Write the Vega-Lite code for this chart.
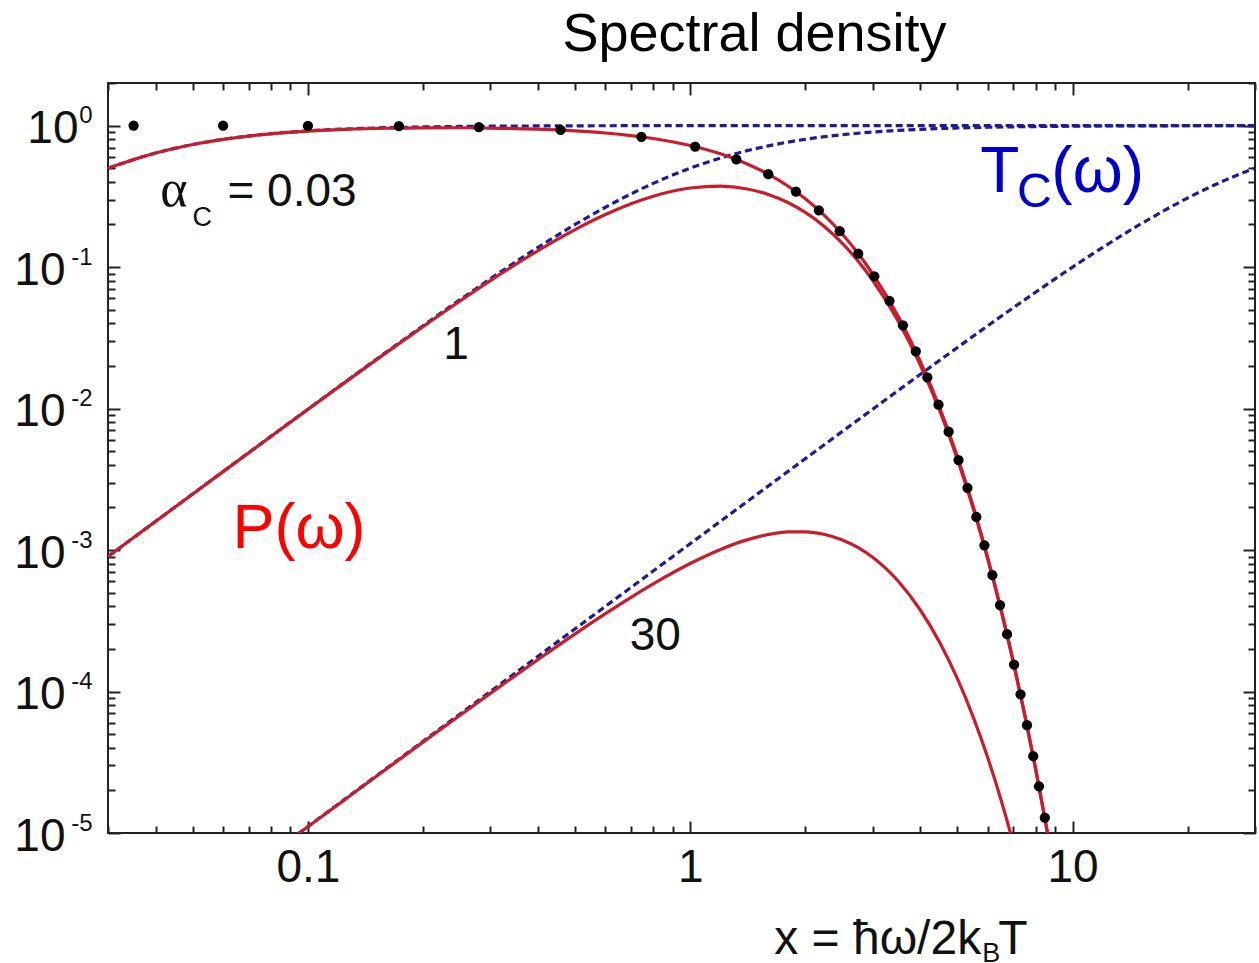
{
  "$schema": "https://vega.github.io/schema/vega-lite/v6.json",
  "width": 1147,
  "height": 750,
  "autosize": {"type": "none"},
  "padding": {"left": 108, "top": 83, "right": 4, "bottom": 130},
  "background": "white",
  "config": {"view": {"stroke": "#222222", "strokeWidth": 2}, "font": "Liberation Sans"},
  "title": {"text": "Spectral density", "fontSize": 54, "font": "Liberation Sans", "fontWeight": "normal", "color": "#000000", "anchor": "middle", "dx": 73, "offset": 20},
  "datasets": {
    "T": [
      {"a": "0.03", "x": 0.03, "v": 0.5}, {"a": "0.03", "x": 0.04, "v": 0.64}, {"a": "0.03", "x": 0.05, "v": 0.7353}, {"a": "0.03", "x": 0.06, "v": 0.8}, {"a": "0.03", "x": 0.08, "v": 0.8767}, {"a": "0.03", "x": 0.1, "v": 0.9174}, {"a": "0.03", "x": 0.125, "v": 0.9455}, {"a": "0.03", "x": 0.16, "v": 0.966}, {"a": "0.03", "x": 0.2, "v": 0.978}, {"a": "0.03", "x": 0.25, "v": 0.9858}, {"a": "0.03", "x": 0.3, "v": 0.9901}, {"a": "0.03", "x": 0.4, "v": 0.9944}, {"a": "0.03", "x": 0.5, "v": 0.9964}, {"a": "0.03", "x": 0.6, "v": 0.9975}, {"a": "0.03", "x": 0.8, "v": 0.9986}, {"a": "0.03", "x": 1, "v": 0.9991}, {"a": "0.03", "x": 1.5, "v": 0.9996}, {"a": "0.03", "x": 2, "v": 0.9998}, {"a": "0.03", "x": 3, "v": 0.9999}, {"a": "0.03", "x": 5, "v": 1}, {"a": "0.03", "x": 10, "v": 1}, {"a": "0.03", "x": 30, "v": 1},
      {"a": "1", "x": 0.03, "v": 0.0008992}, {"a": "1", "x": 0.04, "v": 0.0015974}, {"a": "1", "x": 0.05, "v": 0.0024938}, {"a": "1", "x": 0.06, "v": 0.0035871}, {"a": "1", "x": 0.08, "v": 0.0063593}, {"a": "1", "x": 0.1, "v": 0.009901}, {"a": "1", "x": 0.125, "v": 0.015385}, {"a": "1", "x": 0.16, "v": 0.024961}, {"a": "1", "x": 0.2, "v": 0.038462}, {"a": "1", "x": 0.25, "v": 0.058824}, {"a": "1", "x": 0.3, "v": 0.082569}, {"a": "1", "x": 0.4, "v": 0.137931}, {"a": "1", "x": 0.5, "v": 0.2}, {"a": "1", "x": 0.6, "v": 0.264706}, {"a": "1", "x": 0.7, "v": 0.328859}, {"a": "1", "x": 0.8, "v": 0.390244}, {"a": "1", "x": 1, "v": 0.5}, {"a": "1", "x": 1.2, "v": 0.590164}, {"a": "1", "x": 1.4, "v": 0.662162}, {"a": "1", "x": 1.6, "v": 0.719101}, {"a": "1", "x": 1.8, "v": 0.764151}, {"a": "1", "x": 2, "v": 0.8}, {"a": "1", "x": 2.5, "v": 0.862069}, {"a": "1", "x": 3, "v": 0.9}, {"a": "1", "x": 3.5, "v": 0.924528}, {"a": "1", "x": 4, "v": 0.941176}, {"a": "1", "x": 5, "v": 0.961538}, {"a": "1", "x": 6, "v": 0.972973}, {"a": "1", "x": 7, "v": 0.98}, {"a": "1", "x": 8, "v": 0.984615}, {"a": "1", "x": 10, "v": 0.990099}, {"a": "1", "x": 12, "v": 0.993103}, {"a": "1", "x": 15, "v": 0.995575}, {"a": "1", "x": 20, "v": 0.997506}, {"a": "1", "x": 25, "v": 0.998403}, {"a": "1", "x": 30, "v": 0.99889},
      {"a": "30", "x": 0.08, "v": 7.1111e-6}, {"a": "30", "x": 0.1, "v": 1.1111e-5}, {"a": "30", "x": 0.125, "v": 1.7361e-5}, {"a": "30", "x": 0.16, "v": 2.8444e-5}, {"a": "30", "x": 0.2, "v": 4.4444e-5}, {"a": "30", "x": 0.25, "v": 6.9444e-5}, {"a": "30", "x": 0.3, "v": 1.0e-4}, {"a": "30", "x": 0.4, "v": 1.7775e-4}, {"a": "30", "x": 0.5, "v": 2.777e-4}, {"a": "30", "x": 0.6, "v": 3.9984e-4}, {"a": "30", "x": 0.8, "v": 7.1061e-4}, {"a": "30", "x": 1, "v": 0.00110988}, {"a": "30", "x": 1.2, "v": 0.00159744}, {"a": "30", "x": 1.5, "v": 0.00249377}, {"a": "30", "x": 2, "v": 0.00442478}, {"a": "30", "x": 2.5, "v": 0.00689655}, {"a": "30", "x": 3, "v": 0.00990099}, {"a": "30", "x": 4, "v": 0.0174672}, {"a": "30", "x": 5, "v": 0.027027}, {"a": "30", "x": 6, "v": 0.0384615}, {"a": "30", "x": 7, "v": 0.0516333}, {"a": "30", "x": 8, "v": 0.06639}, {"a": "30", "x": 10, "v": 0.1}, {"a": "30", "x": 12, "v": 0.137931}, {"a": "30", "x": 15, "v": 0.2}, {"a": "30", "x": 20, "v": 0.307692}, {"a": "30", "x": 25, "v": 0.409836}, {"a": "30", "x": 30, "v": 0.5}
    ],
    "P": [
      {"a": "0.03", "x": 0.03, "v": 0.49993}, {"a": "0.03", "x": 0.04, "v": 0.63966}, {"a": "0.03", "x": 0.05, "v": 0.73468}, {"a": "0.03", "x": 0.06, "v": 0.79904}, {"a": "0.03", "x": 0.08, "v": 0.87484}, {"a": "0.03", "x": 0.1, "v": 0.91438}, {"a": "0.03", "x": 0.125, "v": 0.94063}, {"a": "0.03", "x": 0.16, "v": 0.95784}, {"a": "0.03", "x": 0.2, "v": 0.96506}, {"a": "0.03", "x": 0.25, "v": 0.96552}, {"a": "0.03", "x": 0.3, "v": 0.96092}, {"a": "0.03", "x": 0.4, "v": 0.94303}, {"a": "0.03", "x": 0.5, "v": 0.91737}, {"a": "0.03", "x": 0.6, "v": 0.88596}, {"a": "0.03", "x": 0.7, "v": 0.84995}, {"a": "0.03", "x": 0.8, "v": 0.81029}, {"a": "0.03", "x": 1, "v": 0.72341}, {"a": "0.03", "x": 1.2, "v": 0.63161}, {"a": "0.03", "x": 1.4, "v": 0.54024}, {"a": "0.03", "x": 1.6, "v": 0.45347}, {"a": "0.03", "x": 1.8, "v": 0.37419}, {"a": "0.03", "x": 2, "v": 0.30402}, {"a": "0.03", "x": 2.25, "v": 0.23}, {"a": "0.03", "x": 2.5, "v": 0.17072}, {"a": "0.03", "x": 2.75, "v": 0.12463}, {"a": "0.03", "x": 3, "v": 0.08967}, {"a": "0.03", "x": 3.5, "v": 0.044761}, {"a": "0.03", "x": 4, "v": 0.021483}, {"a": "0.03", "x": 4.5, "v": 0.0099983}, {"a": "0.03", "x": 5, "v": 0.0045401}, {"a": "0.03", "x": 5.5, "v": 0.0020209}, {"a": "0.03", "x": 6, "v": 0.00088474}, {"a": "0.03", "x": 6.5, "v": 0.00038199}, {"a": "0.03", "x": 7, "v": 0.00016298}, {"a": "0.03", "x": 7.5, "v": 6.8827e-5}, {"a": "0.03", "x": 8, "v": 2.8808e-5}, {"a": "0.03", "x": 8.5, "v": 1.1965e-5}, {"a": "0.03", "x": 9, "v": 4.9346e-6},
      {"a": "1", "x": 0.03, "v": 0.00089906}, {"a": "1", "x": 0.04, "v": 0.0015966}, {"a": "1", "x": 0.05, "v": 0.0024917}, {"a": "1", "x": 0.06, "v": 0.0035828}, {"a": "1", "x": 0.08, "v": 0.0063458}, {"a": "1", "x": 0.1, "v": 0.0098681}, {"a": "1", "x": 0.125, "v": 0.015305}, {"a": "1", "x": 0.16, "v": 0.024749}, {"a": "1", "x": 0.2, "v": 0.037953}, {"a": "1", "x": 0.25, "v": 0.057614}, {"a": "1", "x": 0.3, "v": 0.080136}, {"a": "1", "x": 0.4, "v": 0.130804}, {"a": "1", "x": 0.5, "v": 0.184135}, {"a": "1", "x": 0.6, "v": 0.235103}, {"a": "1", "x": 0.7, "v": 0.280026}, {"a": "1", "x": 0.8, "v": 0.316655}, {"a": "1", "x": 1, "v": 0.362031}, {"a": "1", "x": 1.2, "v": 0.372985}, {"a": "1", "x": 1.4, "v": 0.35789}, {"a": "1", "x": 1.6, "v": 0.326208}, {"a": "1", "x": 1.8, "v": 0.286015}, {"a": "1", "x": 2, "v": 0.24327}, {"a": "1", "x": 2.25, "v": 0.192095}, {"a": "1", "x": 2.5, "v": 0.147191}, {"a": "1", "x": 2.75, "v": 0.110084}, {"a": "1", "x": 3, "v": 0.080711}, {"a": "1", "x": 3.5, "v": 0.041386}, {"a": "1", "x": 4, "v": 0.02022}, {"a": "1", "x": 4.5, "v": 0.0095282}, {"a": "1", "x": 5, "v": 0.0043657}, {"a": "1", "x": 5.5, "v": 0.0019563}, {"a": "1", "x": 6, "v": 0.00086086}, {"a": "1", "x": 6.5, "v": 0.00037317}, {"a": "1", "x": 7, "v": 0.00015972}, {"a": "1", "x": 7.5, "v": 6.7627e-5}, {"a": "1", "x": 8, "v": 2.8366e-5}, {"a": "1", "x": 8.5, "v": 1.1802e-5}, {"a": "1", "x": 9, "v": 4.8744e-6},
      {"a": "30", "x": 0.08, "v": 7.096e-6}, {"a": "30", "x": 0.1, "v": 1.1074e-5}, {"a": "30", "x": 0.125, "v": 1.7271e-5}, {"a": "30", "x": 0.16, "v": 2.8203e-5}, {"a": "30", "x": 0.2, "v": 4.3856e-5}, {"a": "30", "x": 0.25, "v": 6.8016e-5}, {"a": "30", "x": 0.3, "v": 9.7053e-5}, {"a": "30", "x": 0.4, "v": 0.000168562}, {"a": "30", "x": 0.5, "v": 0.000255672}, {"a": "30", "x": 0.6, "v": 0.000355126}, {"a": "30", "x": 0.7, "v": 0.000463346}, {"a": "30", "x": 0.8, "v": 0.000576606}, {"a": "30", "x": 1, "v": 0.000803622}, {"a": "30", "x": 1.2, "v": 0.00100959}, {"a": "30", "x": 1.4, "v": 0.0011745}, {"a": "30", "x": 1.6, "v": 0.00128668}, {"a": "30", "x": 1.8, "v": 0.00134261}, {"a": "30", "x": 2, "v": 0.00134552}, {"a": "30", "x": 2.25, "v": 0.00128674}, {"a": "30", "x": 2.5, "v": 0.00117753}, {"a": "30", "x": 2.75, "v": 0.0010386}, {"a": "30", "x": 3, "v": 0.000887911}, {"a": "30", "x": 3.5, "v": 0.000601104}, {"a": "30", "x": 4, "v": 0.000375265}, {"a": "30", "x": 4.5, "v": 0.00022002}, {"a": "30", "x": 5, "v": 0.000122711}, {"a": "30", "x": 5.5, "v": 6.57191e-5}, {"a": "30", "x": 6, "v": 3.40296e-5}, {"a": "30", "x": 6.5, "v": 1.71287e-5}, {"a": "30", "x": 7, "v": 8.4152e-6}, {"a": "30", "x": 7.5, "v": 4.04876e-6}
    ],
    "dots": [
      {"x": 0.035, "v": 0.99959}, {"x": 0.06, "v": 0.9988}, {"x": 0.1, "v": 0.99668}, {"x": 0.173, "v": 0.99008}, {"x": 0.28, "v": 0.97428}, {"x": 0.458, "v": 0.93293}, {"x": 0.745, "v": 0.833854}, {"x": 1.03, "v": 0.710413}, {"x": 1.32, "v": 0.576737}, {"x": 1.6, "v": 0.453633}, {"x": 1.89, "v": 0.341509}, {"x": 2.17, "v": 0.252081}, {"x": 2.46, "v": 0.179293}, {"x": 2.75, "v": 0.124641}, {"x": 3.03, "v": 0.086122}, {"x": 3.32, "v": 0.057777}, {"x": 3.6, "v": 0.038761}, {"x": 3.89, "v": 0.025323}, {"x": 4.17, "v": 0.016616}, {"x": 4.46, "v": 0.01064}, {"x": 4.74, "v": 0.006864}, {"x": 5.03, "v": 0.0043274}, {"x": 5.31, "v": 0.0027546}, {"x": 5.6, "v": 0.0017153}, {"x": 5.88, "v": 0.0010803}, {"x": 6.17, "v": 0.00066595}, {"x": 6.46, "v": 0.00040874}, {"x": 6.74, "v": 0.00025415}, {"x": 7.03, "v": 0.00015481}, {"x": 7.31, "v": 9.5611e-5}, {"x": 7.6, "v": 5.7865e-5}, {"x": 7.89, "v": 3.4918e-5}, {"x": 8.17, "v": 2.1386e-5}, {"x": 8.46, "v": 1.2839e-5}
    ]
  },
  "resolve": {"axis": {"x": "independent", "y": "independent"}},
  "layer": [
    {
      "data": {"name": "T"},
      "mark": {"type": "line", "color": "#1e1e92", "strokeWidth": 3.2, "strokeDash": [7, 4], "interpolate": "monotone", "clip": true},
      "encoding": {
        "x": {"field": "x", "type": "quantitative", "scale": {"type": "log", "domain": [0.03, 30], "nice": false},
          "axis": {"orient": "bottom", "title": null, "labels": false, "domain": false, "grid": false, "tickColor": "#222222", "tickWidth": 2,
            "values": [0.03, 0.04, 0.05, 0.06, 0.07, 0.08, 0.09, 0.1, 0.2, 0.3, 0.4, 0.5, 0.6, 0.7, 0.8, 0.9, 1, 2, 3, 4, 5, 6, 7, 8, 9, 10, 20, 30],
            "tickSize": {"condition": {"test": "abs(log(datum.value)/LN10 - round(log(datum.value)/LN10)) < 0.001", "value": -12}, "value": -7}}},
        "y": {"field": "v", "type": "quantitative", "scale": {"type": "log", "domain": [0.00001, 2], "nice": false},
          "axis": {"orient": "left", "title": null, "labels": false, "domain": false, "grid": false, "tickColor": "#222222", "tickWidth": 2,
            "values": [0.00001, 0.00002, 0.00003, 0.00004, 0.00005, 0.00006, 0.00007, 0.00008, 0.00009, 0.0001, 0.0002, 0.0003, 0.0004, 0.0005, 0.0006, 0.0007, 0.0008, 0.0009, 0.001, 0.002, 0.003, 0.004, 0.005, 0.006, 0.007, 0.008, 0.009, 0.01, 0.02, 0.03, 0.04, 0.05, 0.06, 0.07, 0.08, 0.09, 0.1, 0.2, 0.3, 0.4, 0.5, 0.6, 0.7, 0.8, 0.9, 1, 2],
            "tickSize": {"condition": {"test": "abs(log(datum.value)/LN10 - round(log(datum.value)/LN10)) < 0.001", "value": -12}, "value": -7}}},
        "detail": {"field": "a"}
      }
    },
    {
      "data": {"name": "P"},
      "mark": {"type": "line", "color": "#c91d2c", "strokeWidth": 3.2, "interpolate": "monotone", "clip": true},
      "encoding": {
        "x": {"field": "x", "type": "quantitative", "scale": {"type": "log", "domain": [0.03, 30], "nice": false},
          "axis": {"orient": "top", "title": null, "labels": false, "domain": false, "grid": false, "tickColor": "#222222", "tickWidth": 2,
            "values": [0.03, 0.04, 0.05, 0.06, 0.07, 0.08, 0.09, 0.1, 0.2, 0.3, 0.4, 0.5, 0.6, 0.7, 0.8, 0.9, 1, 2, 3, 4, 5, 6, 7, 8, 9, 10, 20, 30],
            "tickSize": {"condition": {"test": "abs(log(datum.value)/LN10 - round(log(datum.value)/LN10)) < 0.001", "value": -12}, "value": -7}}},
        "y": {"field": "v", "type": "quantitative", "scale": {"type": "log", "domain": [0.00001, 2], "nice": false},
          "axis": {"orient": "right", "title": null, "labels": false, "domain": false, "grid": false, "tickColor": "#222222", "tickWidth": 2,
            "values": [0.00001, 0.00002, 0.00003, 0.00004, 0.00005, 0.00006, 0.00007, 0.00008, 0.00009, 0.0001, 0.0002, 0.0003, 0.0004, 0.0005, 0.0006, 0.0007, 0.0008, 0.0009, 0.001, 0.002, 0.003, 0.004, 0.005, 0.006, 0.007, 0.008, 0.009, 0.01, 0.02, 0.03, 0.04, 0.05, 0.06, 0.07, 0.08, 0.09, 0.1, 0.2, 0.3, 0.4, 0.5, 0.6, 0.7, 0.8, 0.9, 1, 2],
            "tickSize": {"condition": {"test": "abs(log(datum.value)/LN10 - round(log(datum.value)/LN10)) < 0.001", "value": -12}, "value": -7}}},
        "detail": {"field": "a"}
      }
    },
    {
      "data": {"name": "dots"},
      "mark": {"type": "circle", "color": "#000000", "opacity": 1, "size": 105, "clip": true},
      "encoding": {
        "x": {"field": "x", "type": "quantitative", "scale": {"type": "log", "domain": [0.03, 30], "nice": false},
          "axis": {"orient": "bottom", "title": null, "ticks": false, "domain": false, "grid": false, "values": [0.1, 1, 10],
            "labelExpr": "datum.value < 0.5 ? '0.1' : datum.value < 5 ? '1' : '10'",
            "labelFont": "Liberation Sans", "labelFontSize": 46, "labelColor": "#111111", "labelPadding": 12, "labelAlign": "center", "labelBaseline": "top", "labelOverlap": false, "labelFlush": false}},
        "y": {"field": "v", "type": "quantitative", "scale": {"type": "log", "domain": [0.00001, 2], "nice": false},
          "axis": {"orient": "left", "title": null, "ticks": false, "domain": false, "grid": false, "values": [0.00001, 0.0001, 0.001, 0.01, 0.1, 1],
            "labelExpr": "'10'",
            "labelFont": "Liberation Sans", "labelFontSize": 46, "labelColor": "#111111", "labelAlign": "right", "labelBaseline": "middle", "labelOverlap": false, "labelFlush": false, "labelOffset": 3,
            "labelPadding": {"condition": {"test": "datum.value > 0.5", "value": 30}, "value": 43}}}
      }
    },
    {
      "data": {"values": [{"x": 0.0616, "v": 0.27, "t": "= 0.03"}, {"x": 0.226, "v": 0.02227, "t": "1"}, {"x": 0.6946, "v": 0.0001967, "t": "30"}]},
      "mark": {"type": "text", "font": "Liberation Sans", "fontSize": 46, "color": "#111111", "align": "left", "baseline": "alphabetic"},
      "encoding": {
        "x": {"field": "x", "type": "quantitative", "scale": {"type": "log", "domain": [0.03, 30], "nice": false}, "axis": null},
        "y": {"field": "v", "type": "quantitative", "scale": {"type": "log", "domain": [0.00001, 2], "nice": false},
          "axis": {"orient": "left", "title": null, "ticks": false, "domain": false, "grid": false, "values": [0.00001, 0.0001, 0.001, 0.01, 0.1, 1],
            "labelExpr": "'' + round(log(datum.value)/LN10)",
            "labelFont": "Liberation Sans", "labelFontSize": 24, "labelColor": "#111111", "labelAlign": "right", "labelBaseline": "middle", "labelOverlap": false, "labelFlush": false, "labelPadding": 16, "labelOffset": -10}},
        "text": {"field": "t"}
      }
    },
    {
      "data": {"values": [{"x": 0.0411, "v": 0.27, "t": "α"}]},
      "mark": {"type": "text", "font": "Liberation Serif", "fontSize": 52, "color": "#111111", "align": "left", "baseline": "alphabetic"},
      "encoding": {
        "x": {"field": "x", "type": "quantitative", "scale": {"type": "log", "domain": [0.03, 30], "nice": false}, "axis": null},
        "y": {"field": "v", "type": "quantitative", "scale": {"type": "log", "domain": [0.00001, 2], "nice": false}, "axis": null},
        "text": {"field": "t"}
      }
    },
    {
      "data": {"values": [{"x": 0.0499, "v": 0.1949, "t": "C"}, {"x": 5.8, "v": 1.234e-6, "t": "B"}]},
      "mark": {"type": "text", "font": "Liberation Sans", "fontSize": 27, "color": "#111111", "align": "left", "baseline": "alphabetic"},
      "encoding": {
        "x": {"field": "x", "type": "quantitative", "scale": {"type": "log", "domain": [0.03, 30], "nice": false}, "axis": null},
        "y": {"field": "v", "type": "quantitative", "scale": {"type": "log", "domain": [0.00001, 2], "nice": false}, "axis": null},
        "text": {"field": "t"}
      }
    },
    {
      "data": {"values": [{"x": 5.766, "v": 1.406e-6, "t": "x = ħω/2k"}]},
      "mark": {"type": "text", "font": "Liberation Sans", "fontSize": 48, "color": "#111111", "align": "right", "baseline": "alphabetic"},
      "encoding": {
        "x": {"field": "x", "type": "quantitative", "scale": {"type": "log", "domain": [0.03, 30], "nice": false}, "axis": null},
        "y": {"field": "v", "type": "quantitative", "scale": {"type": "log", "domain": [0.00001, 2], "nice": false}, "axis": null},
        "text": {"field": "t"}
      }
    },
    {
      "data": {"values": [{"x": 6.387, "v": 1.406e-6, "t": "T"}]},
      "mark": {"type": "text", "font": "Liberation Sans", "fontSize": 48, "color": "#111111", "align": "left", "baseline": "alphabetic"},
      "encoding": {
        "x": {"field": "x", "type": "quantitative", "scale": {"type": "log", "domain": [0.03, 30], "nice": false}, "axis": null},
        "y": {"field": "v", "type": "quantitative", "scale": {"type": "log", "domain": [0.00001, 2], "nice": false}, "axis": null},
        "text": {"field": "t"}
      }
    },
    {
      "data": {"values": [{"x": 0.06346, "v": 0.0010382, "t": "P(ω)"}]},
      "mark": {"type": "text", "font": "Liberation Sans", "fontSize": 63, "color": "#ff0000", "align": "left", "baseline": "alphabetic"},
      "encoding": {
        "x": {"field": "x", "type": "quantitative", "scale": {"type": "log", "domain": [0.03, 30], "nice": false}, "axis": null},
        "y": {"field": "v", "type": "quantitative", "scale": {"type": "log", "domain": [0.00001, 2], "nice": false}, "axis": null},
        "text": {"field": "t"}
      }
    },
    {
      "data": {"values": [{"x": 5.732, "v": 0.3392, "t": "T"}, {"x": 8.8, "v": 0.3392, "t": "(ω)"}]},
      "mark": {"type": "text", "font": "Liberation Sans", "fontSize": 64, "color": "#0000cc", "align": "left", "baseline": "alphabetic"},
      "encoding": {
        "x": {"field": "x", "type": "quantitative", "scale": {"type": "log", "domain": [0.03, 30], "nice": false}, "axis": null},
        "y": {"field": "v", "type": "quantitative", "scale": {"type": "log", "domain": [0.00001, 2], "nice": false}, "axis": null},
        "text": {"field": "t"}
      }
    },
    {
      "data": {"values": [{"x": 7.15, "v": 0.2656, "t": "C"}]},
      "mark": {"type": "text", "font": "Liberation Sans", "fontSize": 48, "color": "#0000cc", "align": "left", "baseline": "alphabetic"},
      "encoding": {
        "x": {"field": "x", "type": "quantitative", "scale": {"type": "log", "domain": [0.03, 30], "nice": false}, "axis": null},
        "y": {"field": "v", "type": "quantitative", "scale": {"type": "log", "domain": [0.00001, 2], "nice": false}, "axis": null},
        "text": {"field": "t"}
      }
    }
  ]
}
